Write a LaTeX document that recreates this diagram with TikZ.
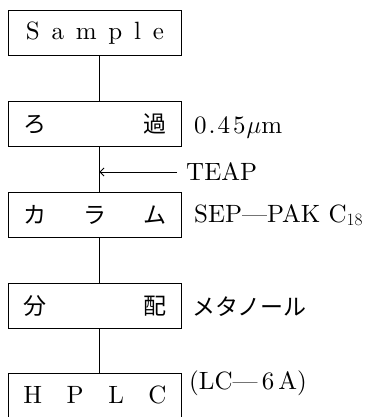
\documentclass[tikz,border=0pt]{standalone}
\usepackage{fontspec}
\setmainfont{lmroman10-regular}[Extension=.otf]
\newfontfamily\jp{Noto Sans CJK JP}
\usetikzlibrary{arrows.meta}
\begin{document}
\begin{tikzpicture}[x=1pt,y=-1pt,
  box/.style={draw,line width=0.9pt,minimum width=173pt,minimum height=45pt,inner sep=0pt,anchor=north west},
  conn/.style={line width=1pt},
  lat/.style={font=\fontsize{25}{28}\selectfont,inner sep=0pt},
  jpt/.style={font=\jp\fontsize{23}{26}\selectfont,inner sep=0pt},
  side/.style={inner sep=0pt,anchor=base west}]
\fill[white] (0,0) rectangle (378,417);
\useasboundingbox (0,0) rectangle (378,417);
\node[box,lat] (b1) at (8,10) {\makebox[138pt][s]{S\hfill a\hfill m\hfill p\hfill l\hfill e}};
\node[box,jpt] (b2) at (8,101) {\makebox[143pt][s]{ろ\hfill 過}};
\node[box,jpt] (b3) at (8,192) {\makebox[143pt][s]{カ\hfill ラ\hfill ム}};
\node[box,jpt] (b4) at (8,283) {\makebox[143pt][s]{分\hfill 配}};
\node[box,lat,minimum height=48pt] (b5) at (8,373) {\raisebox{6pt}{\makebox[143pt][s]{H\hfill P\hfill L\hfill C}}};
\draw[conn] ([xshift=4.5pt]b1.south) -- ([xshift=4.5pt]b2.north);
\draw[conn] ([xshift=4.5pt]b2.south) -- ([xshift=4.5pt]b3.north);
\draw[conn] ([xshift=4.5pt]b3.south) -- ([xshift=4.5pt]b4.north);
\draw[conn] ([xshift=4.5pt]b4.south) -- ([xshift=4.5pt]b5.north);
\coordinate (vx) at ([xshift=4.5pt]b2.south);
\coordinate (ta) at (177,172);
\draw[line width=0.8pt,-{Straight Barb[length=4pt,width=8pt]}] (ta) -- (ta -| vx);
\node[lat,side] (teap) at (186,180) {TEAP};
\node[lat,side] (t2) at (194,133) {0\kern2pt.\kern2pt4\kern3pt5\kern1pt$\mu$m};
\node[lat,side] (t3) at (194,222) {SEP---PAK C$_{18}$};
\node[jpt,side] (t4) at (192,315) {メタノール};
\node[lat,side] (t5) at (189,389) {(LC---\,6\,A)};
\end{tikzpicture}
\end{document}
